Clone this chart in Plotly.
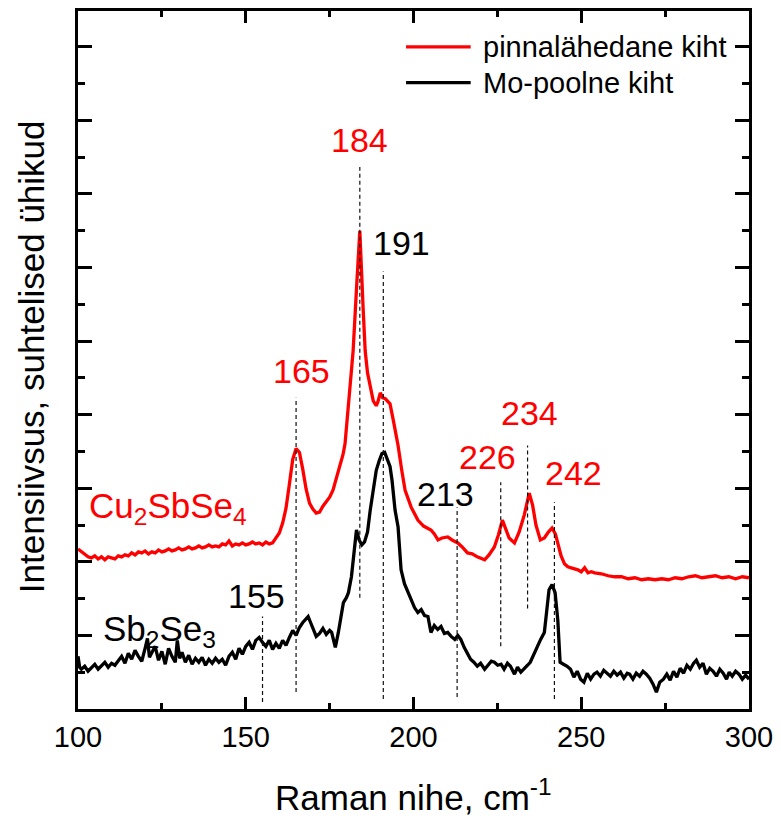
import plotly.graph_objects as go

# Raman spectra (shift in cm^-1, intensity in arbitrary units, curves offset vertically)
red_x = [100, 101, 102, 103, 104, 105, 106, 107, 108, 109, 110, 111, 112, 113, 114, 115, 116, 117, 118, 119,
         120, 121, 122, 123, 124, 125, 126, 127, 128, 129, 130, 131, 132, 133, 134, 135, 136, 137, 138, 139,
         140, 141, 142, 143, 144, 145, 146, 147, 148, 149, 150, 151, 152, 153, 154, 155, 156, 157, 158, 159,
         160, 161, 162, 163, 164, 165, 166, 167, 168, 169, 170, 171, 172, 173, 174, 175, 176, 177, 178, 179,
         179.6, 180.5, 181, 182, 183, 184, 185, 185.6, 186.3, 187.1, 188, 188.9, 189.4, 190.1, 190.8, 191.6,
         192.3, 193, 194, 195.4, 196.5, 197.5, 199.3, 200.3, 201.3, 203, 205.2, 206.2, 207.3, 208.5, 210.2,
         211.5, 213.2, 214.5, 216.1, 217.5, 219, 221.2, 222.5, 224.1, 225.3, 226.5, 227.5, 228.5, 230.1, 231.5,
         233, 234.5, 235.5, 236.5, 237.8, 239, 240.2, 241.3, 242.3, 243.2, 244, 245, 246, 247, 248, 249, 250,
         251, 252, 253, 254, 256, 258, 260, 262, 264, 266, 268, 270, 272, 274, 276, 278, 280, 282, 284, 286,
         288, 290, 292, 294, 296, 298, 300]
red_y = [161, 158, 156, 153, 152, 154, 151, 153, 150, 153, 152, 151, 154, 153, 155, 154, 157, 155, 158, 157,
         159, 156, 158, 157, 160, 158, 159, 161, 159, 160, 162, 160, 161, 163, 161, 162, 164, 162, 163, 165,
         163, 164, 163, 166, 165, 169, 164, 166, 165, 167, 165, 166, 168, 166, 167, 165, 168, 166, 167, 172,
         177, 187, 202, 226, 251, 262, 258, 241, 221, 207, 201, 197, 198, 204, 209, 213, 220, 232, 241, 256,
         267, 300, 322, 360, 422, 481, 402, 360, 338, 323, 310, 305, 309, 318, 313, 312,
         310, 307, 290, 265, 240, 220, 203, 196, 190, 184, 180, 176, 170, 172, 173,
         170, 167, 163, 157, 156, 153, 150, 155, 163, 175, 190, 182, 172, 167, 178,
         195, 217, 205, 185, 170, 172, 178, 182, 176, 163, 154, 146, 143, 142, 141, 140, 138,
         142, 137, 138, 137, 136, 134, 133, 133, 131, 132, 130, 131, 130, 131, 130, 132, 131, 133, 134, 132,
         133, 134, 132, 133, 131, 133, 132]

black_x = [100, 100.5, 101, 102, 103, 104, 105, 106, 107, 108, 109, 110, 111, 112, 113, 114, 115, 116, 117, 118,
           119, 120, 120.7, 121.3, 122, 123, 124, 125, 126, 127, 128, 129, 129.6, 130.3, 131, 132, 133, 134, 135,
           136, 137, 138, 139, 140, 141, 142, 143, 144, 145, 146, 147, 148, 149, 150, 151, 152, 153, 154, 155,
           156, 157, 158, 159, 160, 161, 162, 163, 164, 165, 166, 167, 168, 168.6, 169.2, 170, 171, 172, 173,
           174, 175, 175.6, 176.7, 177.6, 178.4, 179.1, 180, 180.6, 181.5, 182.2, 183, 183.8, 184.6, 185.4,
           186.3, 187.1, 188, 188.9, 189.8, 190.6, 191.4, 192.2, 193, 193.6, 194.5, 195.4, 196.3, 197.3, 198.4,
           199.3, 200.3, 201.3, 202.3, 203.3, 204.3, 205.2, 206.2, 207.2, 208.2, 209.2, 210.2, 211.2, 212.3,
           213.2, 214.1, 215.1, 216.1, 217, 218, 219, 220, 221.2, 222.2, 223.2, 224.1, 225.1, 226.1, 227, 228,
           228.9, 230.1, 231, 232, 233, 234, 234.8, 235.8, 236.9, 237.9, 239, 239.8, 240.4, 241.3, 242.2, 243,
           243.7, 244.7, 245.8, 246.8, 247.8, 248.8, 249.8, 250.8, 251.8, 252.8, 253.8, 254.7, 255.7, 256.7,
           257.7, 258.7, 259.7, 260.7, 261.7, 262.7, 263.7, 264.4, 265.4, 266.4, 267.4, 268.4, 269.4, 270.4,
           271.4, 272.4, 273.4, 274.5, 275.5, 276.5, 277.5, 278.5, 279.5, 280.5, 281.5, 282.5, 283.5, 284.3,
           285.3, 286.3, 287.3, 288.3, 289.3, 290.3, 291.3, 292.3, 293.3, 294.1, 295, 296, 297, 298, 299, 300]
black_y = [53, 42, 40, 43, 38, 42, 45, 40, 43, 47, 42, 46, 44, 49, 53, 46, 56, 50, 59, 53,
           48, 61, 71, 52, 57, 63, 49, 58, 45, 61, 53, 47, 69, 51, 57, 47, 54, 45, 51,
           47, 52, 44, 50, 46, 51, 47, 50, 44, 53, 57, 50, 61, 55, 63, 67, 60, 69, 72, 67,
           63, 69, 60, 66, 61, 69, 64, 72, 79, 74, 82, 87, 91, 93, 88, 81, 73, 76, 81,
           75, 79, 77, 62, 77, 96, 107, 112, 117, 133, 155, 180, 170, 165, 168,
           178, 200, 222, 240, 250, 257, 258, 252, 244, 230, 200, 183, 140, 126, 117,
           110, 102, 97, 100, 94, 93, 77, 84, 80, 83, 76, 77, 73, 70,
           74, 70, 62, 55, 50, 47, 43, 46, 40, 44, 48, 47, 44, 45, 40, 46,
           43, 35, 42, 37, 40, 44, 47, 55, 63, 70, 77, 100, 120, 125, 117, 90,
           47, 45, 43, 40, 32, 38, 30, 27, 36, 30, 35, 37, 33, 39,
           36, 33, 38, 34, 37, 31, 36, 35, 30, 36, 33, 38, 35, 31,
           25, 17, 27, 30, 35, 29, 38, 32, 41, 36, 44, 40, 46, 49,
           42, 46, 35, 41, 38, 33, 40, 36, 30, 37, 33, 38, 35, 30, 34, 30]

# Marked peak positions (cm^-1)
red_peaks = [165, 184, 226, 234, 242]
black_peaks = [155, 191, 213]

RED = "#ff0000"
BLACK = "#000000"
FONT = "Liberation Sans, Arial, sans-serif"

fig = go.Figure()
fig.add_trace(go.Scatter(x=red_x, y=red_y, mode="lines", name="pinnalähedane kiht",
                         line=dict(color=RED, width=3.3), showlegend=False))
fig.add_trace(go.Scatter(x=black_x, y=black_y, mode="lines", name="Mo-poolne kiht",
                         line=dict(color=BLACK, width=3.3), showlegend=False))

# dashed guide lines (y0, y1) and label positions (x, y) for each peak
line_span = {155: (7, 93), 165: (17, 313), 184: (112, 545), 191: (10, 440),
             213: (12, 203), 226: (63, 228), 234: (101, 265), 242: (10, 208)}
label_pos = {155: (153.3, 114), 165: (166.7, 340), 184: (183.9, 572), 191: (196.3, 469),
             213: (209.6, 216), 226: (222.1, 253), 234: (234.5, 298), 242: (247.6, 237)}

for peaks, col in ((red_peaks, RED), (black_peaks, BLACK)):
    for p in peaks:
        y0, y1 = line_span[p]
        fig.add_shape(type="line", xref="x", yref="y", x0=p, x1=p, y0=y0, y1=y1,
                      line=dict(color="#111111", width=1.2, dash="4px,3px"))
        lx, ly = label_pos[p]
        fig.add_annotation(x=lx, y=ly, xref="x", yref="y", text=str(p), showarrow=False,
                           xanchor="center", yanchor="middle",
                           font=dict(family=FONT, size=34, color=col))

# compound labels
fig.add_annotation(x=126.7, y=202, xref="x", yref="y", text="Cu<sub>2</sub>SbSe<sub>4</sub>",
                   showarrow=False, xanchor="center", yanchor="middle",
                   font=dict(family=FONT, size=35, color=RED))
fig.add_annotation(x=124.3, y=78, xref="x", yref="y", text="Sb<sub>2</sub>Se<sub>3</sub>",
                   showarrow=False, xanchor="center", yanchor="middle",
                   font=dict(family=FONT, size=35, color=BLACK))

# legend
legend_rows = [("pinnalähedane kiht", RED, 0.9486), ("Mo-poolne kiht", BLACK, 0.8973)]
for name, col, yy in legend_rows:
    fig.add_shape(type="line", xref="paper", yref="paper", x0=0.4889, x1=0.5852, y0=yy, y1=yy,
                  line=dict(color=col, width=3.3))
    fig.add_annotation(x=0.6, y=yy, xref="paper", yref="paper", text=name, showarrow=False,
                       xanchor="left", yanchor="middle", font=dict(family=FONT, size=29, color=BLACK))

# axis titles
fig.add_annotation(x=0.5, y=-0.123, xref="paper", yref="paper", text="Raman nihe, cm<sup>-1</sup>",
                   showarrow=False, xanchor="center", yanchor="middle",
                   font=dict(family=FONT, size=35, color=BLACK))
fig.add_annotation(x=-0.07, y=0.504, xref="paper", yref="paper", text="Intensiivsus, suhtelised ühikud",
                   showarrow=False, xanchor="center", yanchor="middle", textangle=-90,
                   font=dict(family=FONT, size=35, color=BLACK))

fig.update_layout(
    width=781, height=816,
    margin=dict(l=78, r=28, t=8, b=107),
    paper_bgcolor="white", plot_bgcolor="white",
    font=dict(family=FONT, color=BLACK),
    xaxis=dict(range=[100, 300], tick0=100, dtick=50, showgrid=False, zeroline=False,
               showline=True, linecolor=BLACK, linewidth=3, mirror="ticks",
               ticks="inside", ticklen=12, tickwidth=3, tickcolor=BLACK,
               tickfont=dict(family=FONT, size=29, color=BLACK),
               minor=dict(ticks="inside", dtick=25, ticklen=6, tickwidth=3, tickcolor=BLACK, showgrid=False)),
    yaxis=dict(range=[0, 702], tick0=0, dtick=74, showgrid=False, zeroline=False,
               showline=True, linecolor=BLACK, linewidth=3, mirror="ticks",
               ticks="inside", ticklen=14, tickwidth=3, tickcolor=BLACK, showticklabels=False,
               minor=dict(ticks="inside", dtick=37, ticklen=7, tickwidth=3, tickcolor=BLACK, showgrid=False)),
)

fig.write_html("out.html")
